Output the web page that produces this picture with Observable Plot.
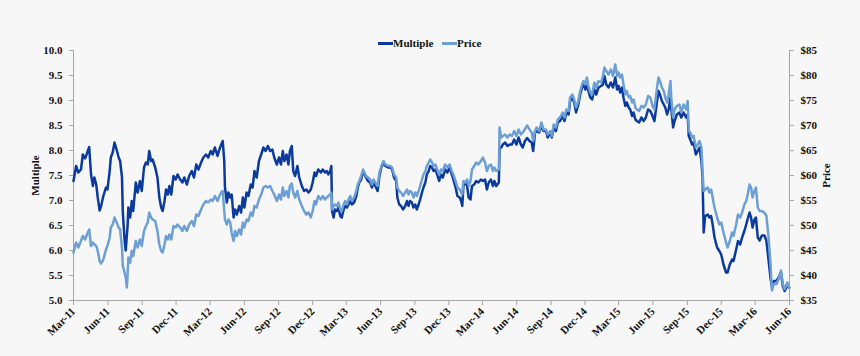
<!DOCTYPE html>
<html>
<head>
<meta charset="utf-8">
<script src="https://cdn.jsdelivr.net/npm/d3@7"></script>
<script src="https://cdn.jsdelivr.net/npm/@observablehq/plot@0.6"></script>
<style>
  html, body { margin: 0; padding: 0; background: #f7f7f7; }
  #wrap { position: relative; width: 860px; height: 356px; }
  .lg { position: absolute; top: 37px; display: flex; align-items: center; white-space: nowrap;
    font-family: 'Liberation Serif', serif; font-weight: bold; font-size: 11px; color: #111; }
  .lg .sw { display: inline-block; width: 15px; height: 3px; }
</style>
</head>
<body>
<div id="wrap">
  <div id="chart"></div>
</div>
<script>
const seriesNames = ["Multiple", "Price"];
const seriesColors = ["#0b3a9e", "#6b9fd5"];

const dates = [
"2011-03-01","2011-03-08","2011-03-14","2011-03-21","2011-03-26","2011-04-01","2011-04-06","2011-04-12","2011-04-17","2011-04-22",
"2011-04-26","2011-05-01","2011-05-05","2011-05-10","2011-05-14","2011-05-20","2011-05-27","2011-05-31","2011-06-06","2011-06-09",
"2011-06-14","2011-06-19","2011-06-23","2011-06-30","2011-07-04","2011-07-09","2011-07-11","2011-07-16","2011-07-19","2011-07-22",
"2011-07-24","2011-07-26","2011-07-31","2011-08-04","2011-08-08","2011-08-15","2011-08-20","2011-08-26","2011-08-31","2011-09-06",
"2011-09-11","2011-09-16","2011-09-20","2011-09-25","2011-09-29","2011-10-06","2011-10-12","2011-10-17","2011-10-22","2011-10-26",
"2011-10-31","2011-11-04","2011-11-09","2011-11-13","2011-11-18","2011-11-24","2011-11-30","2011-12-05","2011-12-12","2011-12-18",
"2011-12-23","2011-12-30","2012-01-05","2012-01-12","2012-01-18","2012-01-24","2012-01-30","2012-02-06","2012-02-12","2012-02-19",
"2012-02-25","2012-03-03","2012-03-08","2012-03-14","2012-03-21","2012-03-26","2012-03-31","2012-04-04","2012-04-08","2012-04-10",
"2012-04-15","2012-04-19","2012-04-24","2012-04-28","2012-05-03","2012-05-07","2012-05-12","2012-05-18","2012-05-23","2012-05-28",
"2012-06-01","2012-06-07","2012-06-12","2012-06-18","2012-06-23","2012-06-28","2012-07-04","2012-07-10","2012-07-16","2012-07-22",
"2012-07-28","2012-08-03","2012-08-09","2012-08-15","2012-08-20","2012-08-27","2012-09-02","2012-09-07","2012-09-12","2012-09-16",
"2012-09-22","2012-09-27","2012-10-01","2012-10-06","2012-10-10","2012-10-15","2012-10-21","2012-10-26","2012-11-02","2012-11-08",
"2012-11-14","2012-11-20","2012-11-26","2012-12-01","2012-12-06","2012-12-10","2012-12-16","2012-12-23","2012-12-28","2013-01-03",
"2013-01-08","2013-01-12","2013-01-17","2013-01-20","2013-01-22","2013-01-26","2013-01-30","2013-02-04","2013-02-08","2013-02-13",
"2013-02-17","2013-02-22","2013-02-26","2013-03-03","2013-03-07","2013-03-12","2013-03-16","2013-03-22","2013-03-28","2013-04-01",
"2013-04-05","2013-04-10","2013-04-15","2013-04-19","2013-04-23","2013-04-28","2013-05-04","2013-05-09","2013-05-13","2013-05-18",
"2013-05-24","2013-05-29","2013-06-03","2013-06-09","2013-06-14","2013-06-21","2013-06-27","2013-07-02","2013-07-07","2013-07-13",
"2013-07-16","2013-07-21","2013-07-26","2013-07-31","2013-08-06","2013-08-11","2013-08-15","2013-08-19","2013-08-24","2013-08-28",
"2013-09-02","2013-09-06","2013-09-11","2013-09-15","2013-09-20","2013-09-24","2013-09-29","2013-10-03","2013-10-08","2013-10-12",
"2013-10-17","2013-10-21","2013-10-26","2013-11-01","2013-11-05","2013-11-10","2013-11-15","2013-11-21","2013-11-27","2013-12-03",
"2013-12-09","2013-12-13","2013-12-19","2013-12-24","2013-12-30","2014-01-03","2014-01-06","2014-01-09","2014-01-14","2014-01-19",
"2014-01-23","2014-01-28","2014-02-01","2014-02-07","2014-02-12","2014-02-18","2014-02-25","2014-03-02","2014-03-08","2014-03-13",
"2014-03-18","2014-03-24","2014-03-29","2014-04-02","2014-04-07","2014-04-14","2014-04-16","2014-04-20","2014-04-25","2014-05-01",
"2014-05-07","2014-05-13","2014-05-19","2014-05-25","2014-05-31","2014-06-06","2014-06-12","2014-06-17","2014-06-23","2014-06-29",
"2014-07-05","2014-07-11","2014-07-15","2014-07-20","2014-07-24","2014-07-31","2014-08-06","2014-08-12","2014-08-18","2014-08-23",
"2014-08-30","2014-09-03","2014-09-08","2014-09-14","2014-09-19","2014-09-25","2014-10-02","2014-10-07","2014-10-12","2014-10-18",
"2014-10-22","2014-10-28","2014-11-02","2014-11-07","2014-11-13","2014-11-18","2014-11-23","2014-11-27","2014-12-02","2014-12-06",
"2014-12-10","2014-12-15","2014-12-20","2014-12-26","2014-12-31","2015-01-06","2015-01-13","2015-01-18","2015-01-22","2015-01-27",
"2015-02-02","2015-02-08","2015-02-14","2015-02-20","2015-02-25","2015-03-01","2015-03-05","2015-03-10","2015-03-14","2015-03-19",
"2015-03-23","2015-03-28","2015-04-01","2015-04-06","2015-04-10","2015-04-15","2015-04-19","2015-04-25","2015-05-01","2015-05-07",
"2015-05-13","2015-05-19","2015-05-25","2015-05-31","2015-06-05","2015-06-12","2015-06-16","2015-06-21","2015-06-25","2015-06-30",
"2015-07-04","2015-07-09","2015-07-13","2015-07-18","2015-07-20","2015-07-25","2015-07-29","2015-08-04","2015-08-11","2015-08-16",
"2015-08-22","2015-08-29","2015-09-02","2015-09-05","2015-09-09","2015-09-14","2015-09-18","2015-09-24","2015-09-29","2015-10-04",
"2015-10-09","2015-10-12","2015-10-15","2015-10-19","2015-10-26","2015-10-30","2015-11-04","2015-11-08","2015-11-13","2015-11-20",
"2015-11-26","2015-12-01","2015-12-07","2015-12-14","2015-12-18","2015-12-24","2015-12-30","2016-01-03","2016-01-10","2016-01-15",
"2016-01-21","2016-01-26","2016-02-01","2016-02-06","2016-02-11","2016-02-15","2016-02-19","2016-02-23","2016-02-28","2016-03-03",
"2016-03-08","2016-03-13","2016-03-19","2016-03-26","2016-03-31","2016-04-06","2016-04-11","2016-04-15","2016-04-20","2016-04-27",
"2016-05-03","2016-05-09","2016-05-14","2016-05-19","2016-05-26","2016-05-31"
];

const multiple = [
7.39,7.69,7.56,7.62,7.92,7.84,7.94,8.07,7.52,7.29,
7.46,7.32,7.06,6.80,6.89,7.09,7.26,7.22,7.59,7.86,
7.96,8.16,8.06,7.86,7.79,7.46,6.79,6.20,6.00,6.30,
6.50,6.86,6.66,6.99,6.79,7.36,7.16,7.39,7.19,7.66,
7.76,7.72,7.99,7.79,7.82,7.66,7.46,7.06,6.86,6.79,
6.99,7.22,7.12,7.29,7.12,7.49,7.42,7.52,7.42,7.36,
7.46,7.32,7.49,7.59,7.46,7.72,7.62,7.76,7.86,7.92,
7.86,7.99,7.92,8.06,7.89,8.02,8.12,8.19,7.79,7.26,
6.96,7.16,7.06,7.12,6.66,6.82,6.72,6.89,6.76,7.06,
6.86,7.16,7.09,7.32,7.26,7.59,7.46,7.79,7.92,8.06,
7.99,8.09,7.99,8.02,7.86,7.72,7.86,7.72,7.99,7.79,
7.92,7.72,7.99,8.09,7.59,7.49,7.69,7.46,7.29,7.19,
7.22,7.16,7.22,7.36,7.56,7.49,7.62,7.56,7.62,7.56,
7.59,7.52,7.59,7.69,6.79,6.66,6.82,6.79,6.86,6.69,
6.66,6.82,6.89,6.86,6.92,6.99,6.92,6.96,7.09,7.26,
7.36,7.42,7.59,7.52,7.46,7.39,7.36,7.26,7.36,7.29,
7.19,7.49,7.66,7.76,7.69,7.66,7.66,7.62,7.46,7.39,
7.06,6.92,6.89,6.82,6.89,6.99,6.89,6.99,6.96,6.86,
6.92,6.82,6.92,7.02,7.16,7.26,7.36,7.52,7.59,7.69,
7.66,7.59,7.62,7.49,7.39,7.52,7.46,7.62,7.56,7.66,
7.52,7.42,7.26,7.09,7.06,6.99,6.89,7.29,7.36,7.29,
7.06,7.02,7.29,7.32,7.39,7.36,7.42,7.39,7.42,7.22,
7.36,7.42,7.29,7.39,7.29,7.36,8.06,8.06,8.12,8.16,
8.09,8.12,8.12,8.22,8.12,8.26,8.12,8.06,8.19,8.25,
8.19,8.16,7.99,8.36,8.39,8.36,8.49,8.39,8.39,8.26,
8.36,8.26,8.46,8.39,8.56,8.59,8.69,8.59,8.76,8.72,
8.99,9.06,8.96,8.76,8.92,9.12,9.26,9.32,9.22,9.32,
9.19,9.06,9.02,9.22,9.12,9.26,9.29,9.32,9.49,9.32,
9.26,9.36,9.26,9.46,9.22,9.29,9.16,9.26,9.06,8.89,
8.96,8.86,8.82,8.69,8.76,8.62,8.59,8.56,8.66,8.59,
8.66,8.82,8.79,8.69,8.59,8.99,9.19,9.09,8.99,8.92,
8.86,8.72,8.82,9.06,8.86,8.46,8.59,8.72,8.76,8.66,
8.76,8.66,8.72,8.29,8.22,8.12,8.16,7.92,7.99,8.06,
7.79,7.46,6.36,6.69,6.72,6.66,6.69,6.52,6.26,6.06,
5.99,5.92,5.72,5.56,5.56,5.72,5.82,5.79,6.02,6.19,
6.12,6.26,6.39,6.52,6.66,6.76,6.66,6.46,6.62,6.66,
6.26,6.20,6.30,6.30,6.20,5.80,5.46,5.26,5.39,5.39,
5.46,5.56,5.29,5.19,5.29,5.26
];

const price = [
44.6,46.6,45.6,46.9,47.9,47.2,48.2,49.2,45.9,46.6,
46.2,45.9,44.9,42.9,42.4,43.2,45.2,45.9,47.6,49.6,
50.2,51.6,50.9,49.6,49.2,45.5,42.0,40.5,39.6,37.6,
40.2,43.6,42.6,44.9,43.9,46.9,45.6,47.2,45.9,48.9,
49.9,50.6,52.6,51.6,51.2,50.9,48.9,46.2,44.9,44.6,
46.2,47.9,47.2,48.2,47.2,49.9,49.6,50.2,49.6,48.9,
49.9,48.9,50.2,50.9,49.9,52.2,51.9,53.2,54.2,54.9,
54.6,55.2,54.9,55.9,54.9,55.9,56.6,56.9,52.9,51.2,
50.2,51.2,50.6,48.5,46.9,48.9,47.9,49.2,48.2,50.6,
49.6,51.2,50.9,52.6,51.9,53.9,53.6,55.2,56.2,57.6,
57.9,57.6,57.9,56.9,56.2,54.9,56.2,55.2,57.6,55.9,
56.9,55.6,57.9,58.4,56.6,55.6,56.9,55.2,53.9,52.9,
52.2,52.6,51.6,52.9,54.9,54.2,55.9,55.2,55.9,55.2,
55.6,55.9,56.2,56.6,53.2,53.9,54.2,53.9,54.6,53.2,
52.9,54.2,54.9,54.2,55.2,55.9,54.9,55.6,56.9,58.2,
58.9,59.9,61.2,60.6,59.9,59.6,59.2,58.2,59.2,58.6,
57.9,60.6,61.9,62.9,62.2,61.9,61.9,61.6,60.2,59.6,
57.6,56.9,56.6,55.9,56.6,57.2,56.2,56.9,56.6,55.6,
56.6,55.9,56.9,57.9,59.2,60.2,60.9,61.9,62.6,63.2,
62.6,61.9,62.2,60.9,60.2,61.2,60.9,62.2,61.6,62.2,
60.9,60.2,58.9,57.6,57.2,56.6,56.2,58.9,58.6,59.2,
57.9,58.9,61.2,61.9,62.6,62.2,62.9,63.6,62.6,60.9,
61.9,62.2,60.9,61.6,60.9,61.2,69.6,67.6,67.9,68.2,
67.6,68.2,67.9,68.9,67.9,69.2,68.2,68.6,69.3,70.0,
69.2,68.6,66.9,68.9,69.6,68.9,70.6,69.2,69.2,68.2,
68.9,67.9,70.2,69.6,71.2,71.6,72.6,71.6,73.2,72.9,
75.6,76.2,75.2,73.6,74.9,76.9,78.2,78.9,78.2,79.6,
77.9,76.6,76.2,78.6,77.6,78.9,78.6,79.9,81.6,80.9,
80.2,81.2,79.9,82.2,79.9,80.6,79.6,80.2,78.2,76.2,
76.9,75.6,75.9,74.6,75.2,73.6,73.2,72.9,73.9,73.6,
74.2,75.9,75.6,73.9,73.2,77.6,79.6,78.6,77.6,76.9,
75.6,74.6,76.2,78.9,75.6,71.6,73.2,73.9,74.2,72.6,
74.2,73.2,74.9,68.9,68.6,67.6,67.9,65.6,66.2,66.9,
65.6,60.9,56.9,57.2,57.6,56.6,57.2,55.6,53.6,51.6,
50.2,50.6,48.6,46.6,45.6,46.9,48.6,47.9,50.2,52.2,
51.6,52.6,54.2,54.9,56.6,58.2,57.6,55.6,56.9,57.6,
53.6,52.9,52.9,52.5,52.0,47.5,42.3,37.0,38.3,38.3,
39.3,41.0,38.3,37.3,38.6,37.6
];

const multipleTicks = [5, 5.5, 6, 6.5, 7, 7.5, 8, 8.5, 9, 9.5, 10];
const priceTickLabels = ["$35","$40","$45","$50","$55","$60","$65","$70","$75","$80","$85"];
const xTickDates = ["2011-03-01","2011-06-01","2011-09-01","2011-12-01","2012-03-01","2012-06-01","2012-09-01","2012-12-01",
  "2013-03-01","2013-06-01","2013-09-01","2013-12-01","2014-03-01","2014-06-01","2014-09-01","2014-12-01",
  "2015-03-01","2015-06-01","2015-09-01","2015-12-01","2016-03-01","2016-06-01"];
const xTickLabels = ["Mar-11","Jun-11","Sep-11","Dec-11","Mar-12","Jun-12","Sep-12","Dec-12","Mar-13","Jun-13","Sep-13","Dec-13",
  "Mar-14","Jun-14","Sep-14","Dec-14","Mar-15","Jun-15","Sep-15","Dec-15","Mar-16","Jun-16"];

// price axis ($35–$85) mapped onto the multiple axis (5–10)
const priceMin = 35, priceMax = 85, multMin = 5, multMax = 10;
const toMult = p => multMin + (p - priceMin) * (multMax - multMin) / (priceMax - priceMin);

const parse = d3.utcParse("%Y-%m-%d");
const rows = dates.map((d, i) => ({date: parse(d), multiple: multiple[i], price: price[i]}));
const tickDates = xTickDates.map(parse);
const labelOf = new Map(tickDates.map((d, i) => [+d, xTickLabels[i]]));
const xDomain = [tickDates[0], tickDates[tickDates.length - 1]];
const axisColor = "#a6a6a6";

const chart = Plot.plot({
  width: 860,
  height: 356,
  marginLeft: 73,
  marginRight: 71,
  marginTop: 50,
  marginBottom: 56,
  style: "background:#f7f7f7; font-family:'Liberation Serif',serif; font-size:11px; font-weight:bold; color:#111;",
  x: {type: "utc", domain: xDomain},
  y: {domain: [multMin, multMax]},
  marks: [
    Plot.ruleY([multMin], {stroke: axisColor}),
    Plot.ruleX([xDomain[0]], {stroke: axisColor}),
    Plot.ruleX([xDomain[1]], {stroke: axisColor}),
    Plot.axisY({anchor: "left", ticks: multipleTicks, tickFormat: d => d.toFixed(1), tickSize: 4, tickPadding: 7,
      stroke: axisColor, label: "Multiple", labelAnchor: "center", labelArrow: "none", labelOffset: 42}),
    Plot.axisY({anchor: "right", ticks: multipleTicks, tickFormat: (d, i) => priceTickLabels[i], tickSize: 4, tickPadding: 7,
      stroke: axisColor, label: "Price", labelAnchor: "center", labelArrow: "none", labelOffset: 40}),
    Plot.axisX({ticks: tickDates, tickFormat: d => labelOf.get(+d), tickRotate: -45, tickSize: 5, tickPadding: 4,
      stroke: axisColor, label: null}),
    Plot.lineY(rows, {x: "date", y: "multiple", stroke: seriesColors[0], strokeWidth: 2.5}),
    Plot.lineY(rows, {x: "date", y: d => toMult(d.price), stroke: seriesColors[1], strokeWidth: 2.5})
  ]
});
const wrap = document.getElementById("wrap");
document.getElementById("chart").appendChild(chart);

// legend, centred above the plot
const legendLeft = [378, 442];
seriesNames.forEach((name, i) => {
  const item = document.createElement("div");
  item.className = "lg";
  item.style.left = legendLeft[i] + "px";
  const sw = document.createElement("span");
  sw.className = "sw";
  sw.style.background = seriesColors[i];
  const tx = document.createElement("span");
  tx.textContent = name;
  item.appendChild(sw);
  item.appendChild(tx);
  wrap.appendChild(item);
});
</script>
</body>
</html>
